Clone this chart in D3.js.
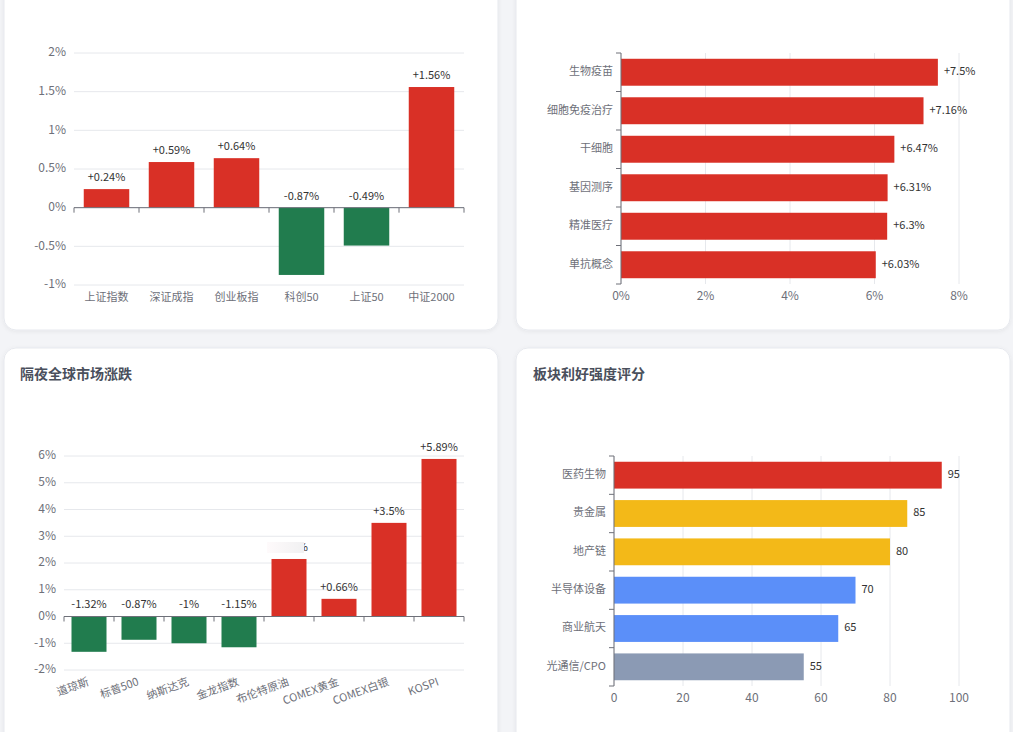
<!DOCTYPE html>
<html>
<head>
<meta charset="utf-8">
<script src="https://cdn.jsdelivr.net/npm/d3@7"></script>
<style>
  html, body { margin: 0; padding: 0; background: #f3f4f7; overflow: hidden; }
  svg { display: block; font-family: "Microsoft YaHei", "Noto Sans CJK SC", "Noto Sans", sans-serif; }
</style>
</head>
<body>
<svg id="chart" width="1013" height="732"></svg>
<script>
// ---------- data ----------
const indexCategories = ["上证指数", "深证成指", "创业板指", "科创50", "上证50", "中证2000"];
const indexValues = [0.24, 0.59, 0.64, -0.87, -0.49, 1.56];
const indexTicks = [-1, -0.5, 0, 0.5, 1, 1.5, 2];

const conceptCategories = ["生物疫苗", "细胞免疫治疗", "干细胞", "基因测序", "精准医疗", "单抗概念"];
const conceptValues = [7.5, 7.16, 6.47, 6.31, 6.3, 6.03];
const conceptTicks = [0, 2, 4, 6, 8];

const globalTitle = "隔夜全球市场涨跌";
const globalCategories = ["道琼斯", "标普500", "纳斯达克", "金龙指数", "布伦特原油", "COMEX黄金", "COMEX白银", "KOSPI"];
const globalValues = [-1.32, -0.87, -1, -1.15, 2.15, 0.66, 3.5, 5.89];
const globalTicks = [-2, -1, 0, 1, 2, 3, 4, 5, 6];

const scoreTitle = "板块利好强度评分";
const scoreCategories = ["医药生物", "贵金属", "地产链", "半导体设备", "商业航天", "光通信/CPO"];
const scoreValues = [95, 85, 80, 70, 65, 55];
const scoreLevels = ["high", "mid", "mid", "tech", "tech", "low"];
const scoreTicks = [0, 20, 40, 60, 80, 100];

// ---------- styles ----------
const RED = "#d93026", GREEN = "#217c4e";
const levelColor = { high: "#d93026", mid: "#f3b918", tech: "#5b8ff9", low: "#8b9ab4" };
const GRID = "#e6e8ec", AXIS = "#6e7079", TICKTXT = "#6e7079", VALTXT = "#333";

const svg = d3.select("#chart");
const defs = svg.append("defs");
const f = defs.append("filter").attr("id", "shadow").attr("x", "-5%").attr("y", "-5%").attr("width", "110%").attr("height", "110%");
f.append("feDropShadow").attr("dx", 0).attr("dy", 1).attr("stdDeviation", 2).attr("flood-color", "#000").attr("flood-opacity", 0.06);
const g1 = defs.append("linearGradient").attr("id", "fog").attr("x1", 0).attr("y1", 0).attr("x2", 1).attr("y2", 0);
g1.append("stop").attr("offset", "0%").attr("stop-color", "#fefafb");
g1.append("stop").attr("offset", "100%").attr("stop-color", "#f1f1f2");

// cards
const cards = [
  { x: 4, y: -55, w: 494, h: 385 },
  { x: 516, y: -55, w: 494, h: 385 },
  { x: 4, y: 348, w: 494, h: 400 },
  { x: 516, y: 348, w: 494, h: 400 }
];
svg.selectAll("rect.card").data(cards).join("rect").attr("class", "card")
  .attr("x", d => d.x).attr("y", d => d.y).attr("width", d => d.w).attr("height", d => d.h)
  .attr("rx", 12).attr("fill", "#fff").attr("stroke", "#e7e9ee").attr("filter", "url(#shadow)");

function title(x, y, t) {
  svg.append("text").attr("x", x).attr("y", y).attr("font-size", 14).attr("font-weight", "bold")
    .attr("fill", "#4a4f5c").attr("dominant-baseline", "middle").text(t);
}
title(20, 375, globalTitle);
title(533, 375, scoreTitle);

const fmtPct = v => (v > 0 ? "+" : "") + v + "%";

// ---------- vertical bar chart ----------
function vbar(opt) {
  const g = svg.append("g");
  const x = d3.scaleBand().domain(opt.cats).range([opt.x0, opt.x1]).paddingInner(0.3).paddingOuter(0.15);
  const y = d3.scaleLinear().domain(opt.domain).range([opt.y1, opt.y0]);
  g.selectAll("line.grid").data(opt.ticks).join("line")
    .attr("x1", opt.x0).attr("x2", opt.x1).attr("y1", d => y(d)).attr("y2", d => y(d))
    .attr("stroke", GRID).attr("stroke-width", 1);
  g.selectAll("text.yt").data(opt.ticks).join("text")
    .attr("x", opt.x0 - 8).attr("y", d => y(d)).attr("text-anchor", "end").attr("dominant-baseline", "middle")
    .attr("font-size", 12).attr("fill", TICKTXT).text(d => d + "%");
  g.selectAll("rect.bar").data(opt.vals).join("rect")
    .attr("x", (d, i) => x(opt.cats[i])).attr("width", x.bandwidth())
    .attr("y", d => y(Math.max(0, d))).attr("height", d => Math.abs(y(d) - y(0)))
    .attr("fill", d => d >= 0 ? RED : GREEN);
  const ax = g.append("g").attr("transform", `translate(0,${y(0)})`)
    .call(d3.axisBottom(x).tickSize(0).tickFormat(""));
  ax.select(".domain").attr("stroke", AXIS).attr("d", `M${opt.x0},0H${opt.x1}`);
  const bounds = d3.range(opt.cats.length + 1).map(i => opt.x0 + i * x.step());
  g.selectAll("line.tk").data(bounds).join("line")
    .attr("x1", d => d).attr("x2", d => d).attr("y1", y(0)).attr("y2", y(0) + 5).attr("stroke", AXIS);
  g.selectAll("text.val").data(opt.vals).join("text")
    .attr("x", (d, i) => x(opt.cats[i]) + x.bandwidth() / 2).attr("y", d => y(Math.max(0, d)) - 11)
    .attr("text-anchor", "middle").attr("dominant-baseline", "middle").attr("font-size", 11).attr("fill", VALTXT).text(fmtPct);
  const cl = g.selectAll("text.cat").data(opt.cats).join("text").attr("font-size", 11).attr("fill", TICKTXT).text(d => d);
  if (opt.rotate) {
    cl.attr("text-anchor", "end").attr("dominant-baseline", "hanging")
      .attr("transform", d => `translate(${x(d) + x.bandwidth() / 2 - 3},${opt.y1 + 5}) rotate(${-opt.rotate})`);
  } else {
    cl.attr("x", d => x(d) + x.bandwidth() / 2).attr("y", opt.y1 + 13).attr("text-anchor", "middle").attr("dominant-baseline", "middle");
  }
  return { x, y, g };
}

vbar({ cats: indexCategories, vals: indexValues, ticks: indexTicks, domain: [-1, 2], x0: 74, x1: 464, y0: 53, y1: 285 });
const gl = vbar({ cats: globalCategories, vals: globalValues, ticks: globalTicks, domain: [-2, 6], x0: 64, x1: 464, y0: 456, y1: 670, rotate: 20 });
// faded overlay that hides the Brent label in the reference
{
  const i = 4, cx = gl.x(globalCategories[i]) + gl.x.bandwidth() / 2, ty = gl.y(globalValues[i]) - 11;
  svg.append("rect").attr("x", cx - 22).attr("y", ty - 6).attr("width", 37).attr("height", 11)
    .attr("fill", "url(#fog)");
}

// ---------- horizontal bar chart ----------
function hbar(opt) {
  const g = svg.append("g");
  const y = d3.scaleBand().domain(opt.cats).range([opt.y0, opt.y1]).paddingInner(0.3).paddingOuter(0.15);
  const x = d3.scaleLinear().domain(opt.domain).range([opt.x0, opt.x1]);
  g.selectAll("line.grid").data(opt.ticks).join("line")
    .attr("x1", d => x(d)).attr("x2", d => x(d)).attr("y1", opt.y0).attr("y2", opt.y1)
    .attr("stroke", GRID);
  g.selectAll("text.xt").data(opt.ticks).join("text")
    .attr("x", d => x(d)).attr("y", opt.y1 + 13).attr("text-anchor", "middle").attr("dominant-baseline", "middle")
    .attr("font-size", 12).attr("fill", TICKTXT).text(opt.tickFmt);
  g.selectAll("rect.bar").data(opt.vals).join("rect")
    .attr("x", x(0)).attr("y", (d, i) => y(opt.cats[i])).attr("height", y.bandwidth())
    .attr("width", d => x(d) - x(0)).attr("fill", (d, i) => opt.color(i));
  g.append("line").attr("x1", x(0)).attr("x2", x(0)).attr("y1", opt.y0).attr("y2", opt.y1).attr("stroke", AXIS);
  const bounds = d3.range(opt.cats.length + 1).map(i => opt.y0 + i * y.step());
  g.selectAll("line.tk").data(bounds).join("line")
    .attr("x1", x(0) - 5).attr("x2", x(0)).attr("y1", d => d).attr("y2", d => d).attr("stroke", AXIS);
  g.selectAll("text.cat").data(opt.cats).join("text")
    .attr("x", x(0) - 8).attr("y", d => y(d) + y.bandwidth() / 2).attr("text-anchor", "end").attr("dominant-baseline", "middle")
    .attr("font-size", 11).attr("fill", TICKTXT).text(d => d);
  g.selectAll("text.val").data(opt.vals).join("text")
    .attr("x", d => x(d) + 6).attr("y", (d, i) => y(opt.cats[i]) + y.bandwidth() / 2).attr("dominant-baseline", "middle")
    .attr("font-size", 11).attr("fill", VALTXT).text(opt.valFmt);
}

hbar({ cats: conceptCategories, vals: conceptValues, ticks: conceptTicks, domain: [0, 8], x0: 621, x1: 959, y0: 53, y1: 284,
  tickFmt: d => d + "%", valFmt: fmtPct, color: () => RED });
hbar({ cats: scoreCategories, vals: scoreValues, ticks: scoreTicks, domain: [0, 100], x0: 614, x1: 959, y0: 456, y1: 686,
  tickFmt: d => d, valFmt: d => d, color: i => levelColor[scoreLevels[i]] });
</script>
</body>
</html>
